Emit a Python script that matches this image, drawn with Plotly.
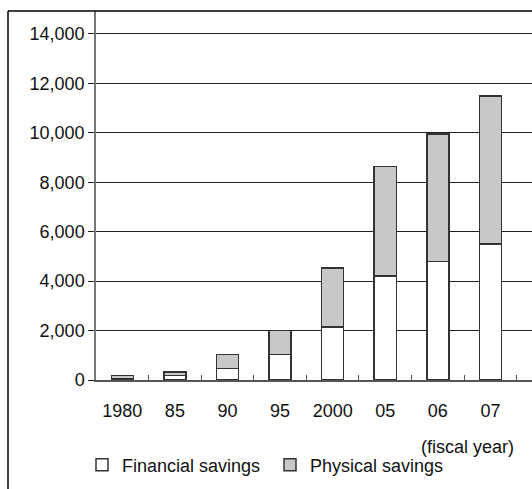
import plotly.graph_objects as go

# Household savings by type (100 million rupees)
years = ["1980", "85", "90", "95", "2000", "05", "06", "07"]
financial = [60, 190, 460, 1040, 2150, 4200, 4800, 5500]
physical = [130, 135, 570, 960, 2380, 4440, 5150, 6000]

W, H = 532, 489
L, T, B = 96, 11, 109
plot_w = W - L
plot_h = H - T - B


def px_x(x):
    return (x - L) / plot_w


def px_y(y):
    return (H - B - y) / plot_h


font = dict(family="Liberation Sans, Arial, Helvetica, sans-serif", size=18, color="#111")

fig = go.Figure()
fig.add_trace(go.Bar(
    x=years, y=financial, name="Financial savings",
    marker=dict(color="white", line=dict(color="#333", width=1.5)),
    width=0.42, legend="legend",
))
fig.add_trace(go.Bar(
    x=years, y=physical, name="Physical savings",
    marker=dict(color="#c8c8c8", line=dict(color="#333", width=1.5)),
    width=0.42, legend="legend2",
))

fig.update_layout(
    width=W, height=H,
    margin=dict(l=L, r=0, t=T, b=B, pad=0),
    barmode="stack",
    plot_bgcolor="white", paper_bgcolor="white",
    font=font,
    showlegend=True,
    legend=dict(orientation="h", x=px_x(82), y=px_y(465), xanchor="left", yanchor="middle",
                font=font, bgcolor="rgba(0,0,0,0)", borderwidth=0),
    legend2=dict(orientation="h", x=px_x(270), y=px_y(465), xanchor="left", yanchor="middle",
                 font=font, bgcolor="rgba(0,0,0,0)", borderwidth=0),
    xaxis=dict(
        type="category", range=[-0.5, 7.79],
        showline=True, linecolor="#555", linewidth=1.5,
        ticks="inside", ticklen=5, tickwidth=1.2, tickcolor="#555",
        tickson="boundaries", showgrid=False,
        ticklabelstandoff=14, tickfont=font,
    ),
    yaxis=dict(
        range=[0, 14930],
        tickvals=[0, 2000, 4000, 6000, 8000, 10000, 12000, 14000],
        ticktext=["0", "2,000", "4,000", "6,000", "8,000", "10,000", "12,000", "14,000"],
        showline=True, linecolor="#777", linewidth=1.5,
        ticks="outside", ticklen=6, tickwidth=1, tickcolor="#222",
        showgrid=True, gridcolor="#222", gridwidth=1,
        zeroline=False, tickfont=font, ticklabelstandoff=0,
    ),
)

# Unit label at the top left, running off the top edge
fig.add_annotation(text="(100 million rupees)", xref="paper", yref="paper",
                   x=px_x(8), y=px_y(2), xanchor="left", yanchor="bottom",
                   showarrow=False, font=font)
# Axis note
fig.add_annotation(text="(fiscal year)", xref="paper", yref="paper",
                   x=px_x(516), y=px_y(447), xanchor="right", yanchor="middle",
                   showarrow=False, font=font)

# Frame around the chart
fig.add_shape(type="line", xref="paper", yref="paper",
              x0=px_x(8), x1=px_x(W + 5), y0=px_y(11), y1=px_y(11),
              line=dict(color="#000", width=1.5))
fig.add_shape(type="line", xref="paper", yref="paper",
              x0=px_x(8), x1=px_x(8), y0=px_y(11), y1=px_y(H + 5),
              line=dict(color="#000", width=1.5))

fig.write_html("out.html")
